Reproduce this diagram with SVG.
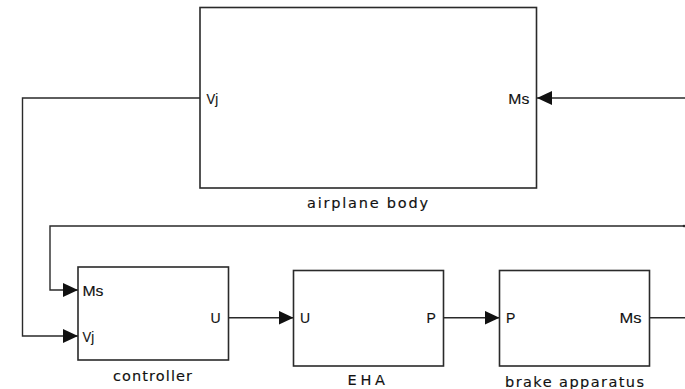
<svg xmlns="http://www.w3.org/2000/svg" width="685" height="389" viewBox="0 0 685 389">
<style>
.blk{fill:#fff;stroke:#2a2a2a;stroke-width:1.6}
.ln{fill:none;stroke:#2a2a2a;stroke-width:1.4}
.t{font-family:"DejaVu Sans","Liberation Sans",Arial,sans-serif;font-size:14.5px;fill:#111;stroke:#111;stroke-width:0.15}
.p{font-family:"Liberation Sans",Arial,sans-serif;font-size:14px;fill:#111;stroke:#111;stroke-width:0.15}
</style>
<defs>
<marker id="arr" markerUnits="userSpaceOnUse" markerWidth="16" markerHeight="15" refX="15" refY="7" orient="auto">
<path d="M0,0 L15,7 L0,14 z" fill="#111"/>
</marker>
</defs>
<rect width="685" height="389" fill="#fff"/>
<g id="connectors">
<path class="ln" d="M685,98 L537,98" marker-end="url(#arr)"/>
<path class="ln" d="M200,98 L22.5,98 L22.5,336 L78,336" marker-end="url(#arr)"/>
<path class="ln" d="M685,226 L50,226 L50,290 L78,290" marker-end="url(#arr)"/>
<path class="ln" d="M228.5,317.7 L293.5,317.7" marker-end="url(#arr)"/>
<path class="ln" d="M443.5,317.7 L499.5,317.7" marker-end="url(#arr)"/>
<path class="ln" d="M649.5,317.7 L685,317.7"/>
<circle cx="684" cy="226" r="1.3" fill="#2a2a2a"/>
</g>
<g id="airplane-body">
<rect class="blk" x="200" y="7.5" width="336.5" height="180.5"/>
<text class="p" x="206.5" y="103.5" textLength="11.6" lengthAdjust="spacingAndGlyphs">Vj</text>
<text class="p" x="508.3" y="103.5" textLength="21" lengthAdjust="spacingAndGlyphs">Ms</text>
<text class="t" x="307" y="207.5" textLength="121" lengthAdjust="spacing">airplane body</text>
</g>
<g id="controller">
<rect class="blk" x="78" y="267" width="150.5" height="93"/>
<text class="p" x="82.5" y="295.5" textLength="21" lengthAdjust="spacingAndGlyphs">Ms</text>
<text class="p" x="82.5" y="341.5" textLength="11.6" lengthAdjust="spacingAndGlyphs">Vj</text>
<text class="p" x="210.5" y="323">U</text>
<text class="t" x="113" y="380.7" textLength="79" lengthAdjust="spacing">controller</text>
</g>
<g id="EHA">
<rect class="blk" x="293.5" y="270.5" width="150" height="95.5"/>
<text class="p" x="300" y="323">U</text>
<text class="p" x="426.5" y="323">P</text>
<text class="t" x="347.5" y="384.5" textLength="37.5" lengthAdjust="spacing">EHA</text>
</g>
<g id="brake-apparatus">
<rect class="blk" x="499.5" y="270.5" width="150" height="95.5"/>
<text class="p" x="506" y="323">P</text>
<text class="p" x="619.5" y="323" textLength="22" lengthAdjust="spacingAndGlyphs">Ms</text>
<text class="t" x="505" y="386.7" textLength="139" lengthAdjust="spacing">brake apparatus</text>
</g>
</svg>
